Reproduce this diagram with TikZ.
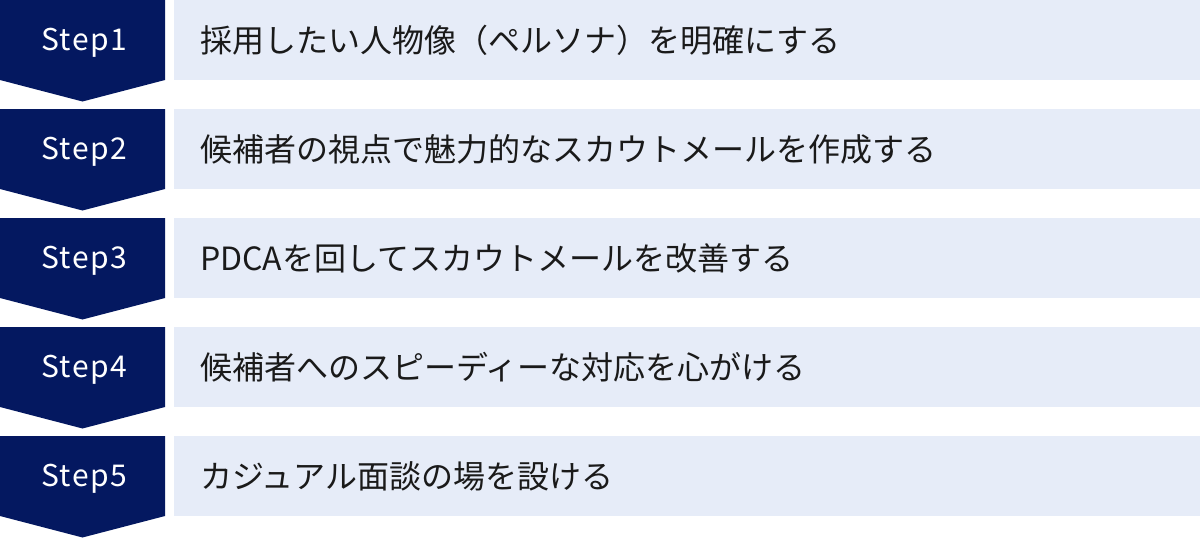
\documentclass[tikz,border=0pt]{standalone}
\usepackage{fontspec}
\usepackage{tikz}
\newfontfamily\jpfont{Noto Sans CJK JP}
\newfontfamily\stepfont[LetterSpace=5]{Noto Sans CJK JP}
\definecolor{navy}{RGB}{4, 24, 96}
\definecolor{pale}{RGB}{230, 236, 248}
\definecolor{ink}{RGB}{26, 26, 26}
\tikzset{
  steplabel/.style={text=white, anchor=base, font=\stepfont\fontsize{30}{34}\selectfont, inner sep=0pt},
  steptext/.style={text=ink, anchor=west, font=\jpfont\fontsize{32}{36}\selectfont, inner sep=0pt}
}

\begin{document}
\begin{tikzpicture}[x=1pt, y=-1pt]
  \useasboundingbox (0, 0) rectangle (1200, 538);

  \fill[navy] (0, 0) -- (165, 0) -- (165, 80) -- (82.5, 101.5) -- (0, 80) -- cycle;
  \fill[pale] (174, 0) rectangle (1200, 80);
  \node[steplabel] (s1) at (84, 50) {Step1};
  \node[steptext] (t1) at (200, 40) {採用したい人物像（ペルソナ）を明確にする};

  \fill[navy] (0, 109) -- (165, 109) -- (165, 189) -- (82.5, 210.5) -- (0, 189) -- cycle;
  \fill[pale] (174, 109) rectangle (1200, 189);
  \node[steplabel] (s2) at (84, 159) {Step2};
  \node[steptext] (t2) at (200, 149) {候補者の視点で魅力的なスカウトメールを作成する};

  \fill[navy] (0, 218) -- (165, 218) -- (165, 298) -- (82.5, 319.5) -- (0, 298) -- cycle;
  \fill[pale] (174, 218) rectangle (1200, 298);
  \node[steplabel] (s3) at (84, 268) {Step3};
  \node[steptext] (t3) at (200, 258) {PDCAを回してスカウトメールを改善する};

  \fill[navy] (0, 327) -- (165, 327) -- (165, 407) -- (82.5, 428.5) -- (0, 407) -- cycle;
  \fill[pale] (174, 327) rectangle (1200, 407);
  \node[steplabel] (s4) at (84, 377) {Step4};
  \node[steptext] (t4) at (200, 367) {候補者へのスピーディーな対応を心がける};

  \fill[navy] (0, 436) -- (165, 436) -- (165, 516) -- (82.5, 537.5) -- (0, 516) -- cycle;
  \fill[pale] (174, 436) rectangle (1200, 516);
  \node[steplabel] (s5) at (84, 486) {Step5};
  \node[steptext] (t5) at (200, 476) {カジュアル面談の場を設ける};

\end{tikzpicture}
\end{document}
